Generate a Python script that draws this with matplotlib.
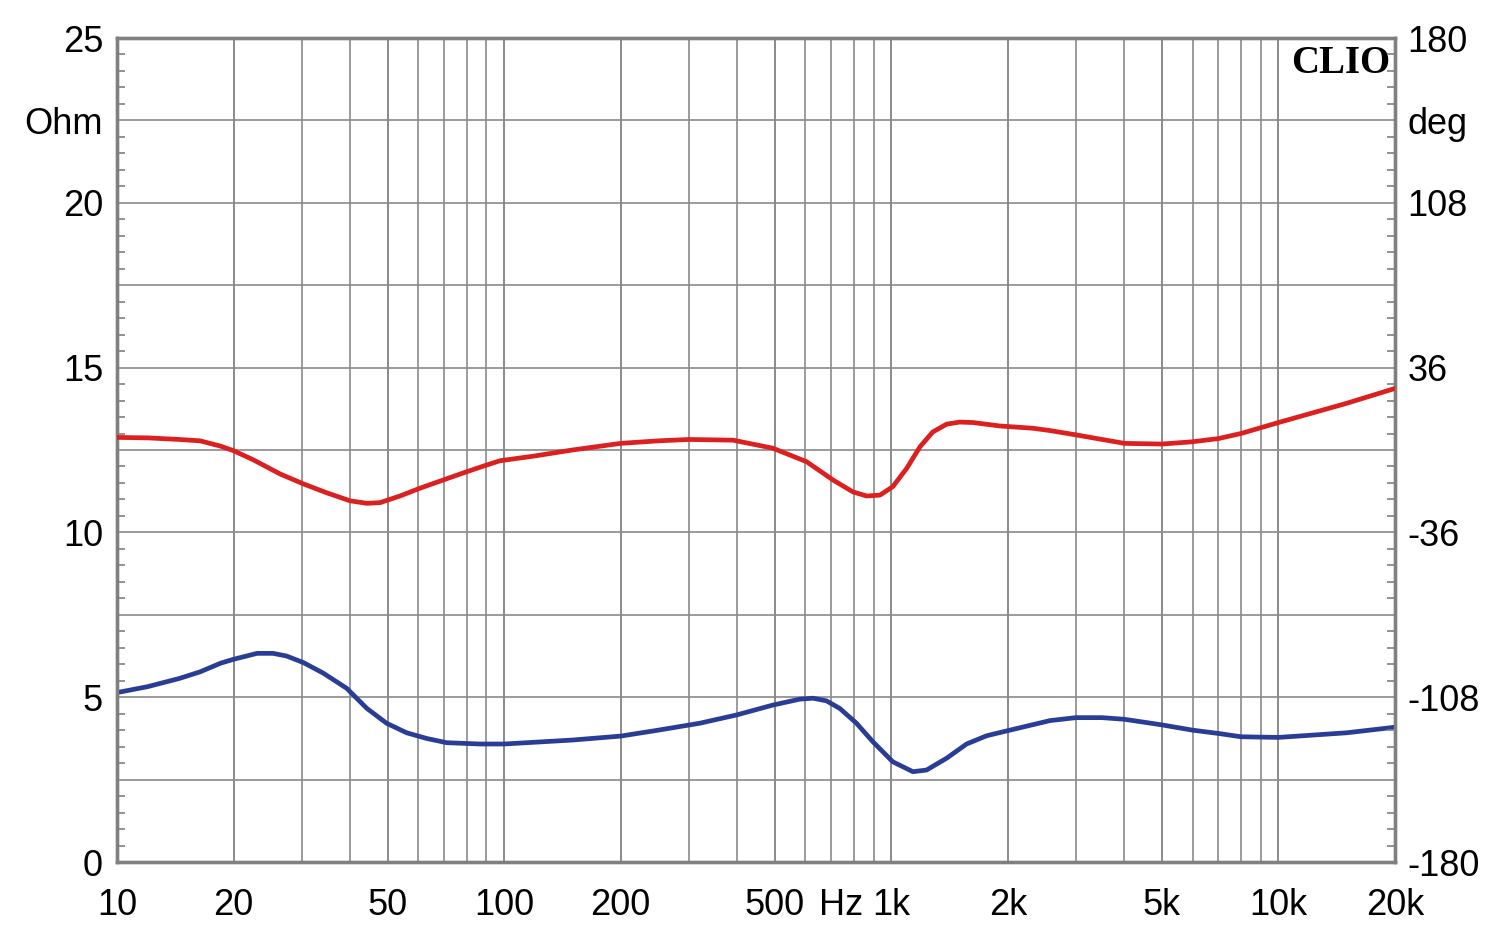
import matplotlib
matplotlib.use("Agg")
import matplotlib.pyplot as plt
from matplotlib.transforms import blended_transform_factory

# ---- data ----
imp_freq = [10, 12, 14.5, 16.4, 18.5, 20, 23, 25.3, 27.4, 30.3, 34.1, 39.2, 44.2, 49.7,
            56, 63, 71, 86.6, 100, 150, 200, 250, 320, 398, 494, 580, 627, 680, 736,
            813, 896, 1009, 1137, 1233, 1390, 1565, 1763, 2024, 2569, 3000, 3500,
            4000, 5000, 6000, 7000, 8000, 10000, 15000, 20000]
imp_ohm = [5.14, 5.32, 5.57, 5.77, 6.03, 6.15, 6.33, 6.33, 6.25, 6.05, 5.73, 5.27, 4.66,
           4.21, 3.92, 3.75, 3.62, 3.58, 3.58, 3.70, 3.82, 4.00, 4.21, 4.46, 4.76, 4.94,
           4.97, 4.89, 4.66, 4.21, 3.65, 3.04, 2.74, 2.79, 3.15, 3.58, 3.83, 4.00, 4.29,
           4.38, 4.38, 4.33, 4.16, 4.00, 3.90, 3.80, 3.78, 3.92, 4.09]

ph_freq = [10, 12, 14.5, 16.4, 18.5, 20, 22.5, 26.4, 30.3, 34.8, 40, 44.2, 47.8, 53.8,
           60.6, 69.6, 80, 90, 97.5, 120, 150, 200, 250, 300, 390, 494, 604, 707, 796,
           864, 935, 1009, 1096, 1186, 1280, 1390, 1503, 1625, 1906, 2322, 2569, 3000,
           4000, 5000, 6000, 7000, 8000, 10000, 15000, 20000]
ph_deg = [5.5, 5.3, 4.6, 4.0, 1.7, -0.3, -4.3, -10.5, -14.8, -18.7, -22.2, -23.3, -23.0,
          -20.1, -16.7, -13.1, -9.5, -6.6, -4.7, -2.6, 0.0, 2.9, 4.0, 4.6, 4.3, 0.8, -5.1,
          -13.1, -18.3, -20.1, -19.7, -16.0, -8.0, 1.4, 7.9, 11.3, 12.2, 12.0, 10.5, 9.5,
          8.5, 6.6, 2.9, 2.6, 3.6, 5.0, 7.2, 12.0, 20.4, 26.9]

x_ticks = [10, 20, 50, 100, 200, 500, 1000, 2000, 5000, 10000, 20000]
x_labels = ["10", "20", "50", "100", "200", "500", "1k", "2k", "5k", "10k", "20k"]
x_unit_pos = 740
x_unit = "Hz"
left_ticks = [0, 5, 10, 15, 20, 25, 22.5]
left_labels = ["0", "5", "10", "15", "20", "25", "Ohm"]
right_ticks = [-180, -108, -36, 36, 108, 180, 144]
right_labels = ["-180", "-108", "-36", "36", "108", "180", "deg"]

plt.rcParams['font.family'] = ['Liberation Sans', 'DejaVu Sans']

GRID = "#8a8a8a"
SPINE = "#808080"
FS = 26
XPAD = 19

fig = plt.figure(figsize=(15, 9.4), dpi=100)
ax = fig.add_axes([117/1500, 78/940, 1278/1500, 824/940])
ax.set_xscale("log")
ax.set_xlim(10, 20000)
ax.set_ylim(0, 25)

# grid
xgrid = []
for dec in [10, 100, 1000, 10000]:
    for m in range(1, 10):
        v = dec * m
        if 10 <= v <= 20000:
            xgrid.append(v)
ax.set_xticks(xgrid, minor=True)
ax.set_xticks(x_ticks)
ax.set_xticklabels(x_labels)
ax.xaxis.remove_overlapping_locs = False
ax.tick_params(axis="x", which="both", length=0, labelsize=FS, pad=XPAD)
ax.set_xticklabels([], minor=True)
ax.grid(True, which="both", axis="x", color=GRID, linewidth=1.2)

ygrid = [i * 2.5 for i in range(11)]
ax.set_yticks(ygrid)
ylab = []
for v in ygrid:
    if v in left_ticks:
        ylab.append(left_labels[left_ticks.index(v)])
    else:
        ylab.append("")
ax.set_yticklabels(ylab)
ax.set_yticks([i * 0.5 for i in range(51)], minor=True)
ax.tick_params(axis="y", which="major", length=0, labelsize=FS, pad=10)
ax.tick_params(axis="y", which="minor", length=6, width=1.2, color=SPINE, direction="in")
ax.grid(True, which="major", axis="y", color=GRID, linewidth=1.2)
ax.set_axisbelow(True)

for s in ax.spines.values():
    s.set_color(SPINE)
    s.set_linewidth(2.4)

ax.plot(imp_freq, imp_ohm, color="#2a3d96", linewidth=3.4, zorder=3,
        solid_joinstyle="round")

ax2 = ax.twinx()
ax2.set_ylim(-180, 180)
r_major = [-180 + 36 * i for i in range(11)]
ax2.set_yticks(r_major)
rlab = []
for v in r_major:
    if v in right_ticks:
        rlab.append(right_labels[right_ticks.index(v)])
    else:
        rlab.append("")
ax2.set_yticklabels(rlab)
ax2.set_yticks([-180 + 7.2 * i for i in range(51)], minor=True)
ax2.tick_params(axis="y", which="major", length=0, labelsize=FS, pad=9)
ax2.tick_params(axis="y", which="minor", length=6, width=1.2, color=SPINE, direction="in")
for s in ax2.spines.values():
    s.set_color(SPINE)
    s.set_linewidth(2.4)

ax2.plot(ph_freq, ph_deg, color="#dc1f1f", linewidth=3.4, zorder=3,
         solid_joinstyle="round")

# Hz unit label on x axis, aligned with tick labels
trans = blended_transform_factory(ax.transData, ax.transAxes)
ax.annotate(x_unit, xy=(x_unit_pos, 0), xycoords=trans, xytext=(0, -XPAD),
            textcoords="offset points", ha="center", va="top", fontsize=FS)

ax.text(0.996, 0.992, "CLIO", transform=ax.transAxes, ha="right", va="top",
        fontsize=28, fontweight="bold", fontfamily=['Liberation Serif', 'DejaVu Serif'],
        zorder=5)

fig.savefig("out.png", dpi=100, facecolor="white")
